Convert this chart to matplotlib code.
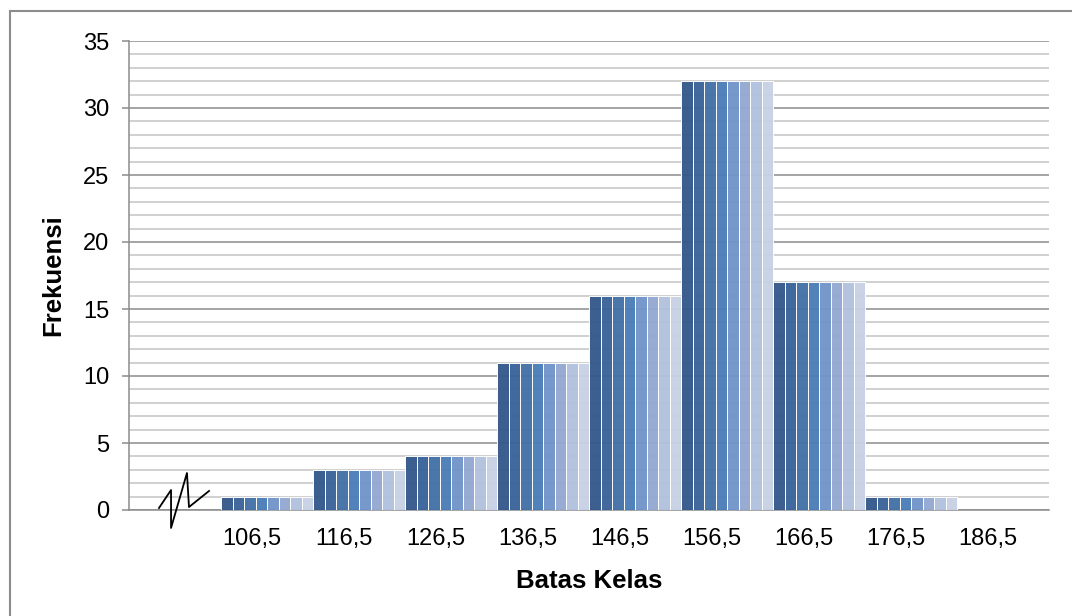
import numpy as np
import matplotlib.pyplot as plt
from matplotlib.patches import Rectangle
from matplotlib.ticker import MultipleLocator

plt.rcParams['font.family'] = ['Liberation Sans', 'DejaVu Sans']

# class boundaries and frequencies (first slot is the empty broken-axis slot)
kelas = ['', '106,5', '116,5', '126,5', '136,5', '146,5', '156,5', '166,5', '176,5', '186,5']
frekuensi = [0, 1, 3, 4, 11, 16, 32, 17, 1, 0]

# gradient stripes used inside every bar
stripes = ['#34588a', '#3a6399', '#4270a6', '#4a7db7',
           '#7194c8', '#94a8d2', '#b2c2dd', '#c8d0e4']

fig = plt.figure(figsize=(10.72, 6.16), dpi=100)
ax = fig.add_axes([129/1072, 1-510/616, (1049-129)/1072, (510-41)/616])

# chart area border (only top and left fall inside the image)
fig.patches.append(Rectangle((10/1072, -0.05), 1.1, 1-11/616+0.05, transform=fig.transFigure,
                             fill=False, ec='#8c8c8c', lw=1.5))

x = np.arange(len(kelas))
n = len(stripes)
w = 1.0/n
for k, c in enumerate(stripes):
    ax.bar(x - 0.5 + w*(k+0.5), frekuensi, width=w, color=c, alpha=0.96,
           edgecolor=(1, 1, 1, 0.2), linewidth=0.7, zorder=3)

ax.set_xlim(-0.5, len(kelas)-0.5)
ax.set_ylim(0, 35)
ax.yaxis.set_major_locator(MultipleLocator(5))
ax.yaxis.set_minor_locator(MultipleLocator(1))
ax.grid(True, axis='y', which='major', color='#8c8c8c', lw=1.1, zorder=1)
ax.grid(True, axis='y', which='minor', color='#c3c3c3', lw=1.1, zorder=1)

ax.set_xticks(x - 0.16)
ax.set_xticklabels(kelas)
ax.tick_params(axis='x', length=0, pad=13, labelsize=17)
ax.tick_params(axis='y', which='major', length=5, width=1.1, color='#8c8c8c', pad=9, labelsize=17)
ax.tick_params(axis='y', which='minor', length=0)

for s in ['top', 'right']:
    ax.spines[s].set_visible(False)
ax.spines['left'].set_color('#8c8c8c')
ax.spines['left'].set_linewidth(1.1)
ax.spines['bottom'].set_color('#8c8c8c')
ax.spines['bottom'].set_linewidth(1.1)

ax.set_ylabel('Frekuensi', fontsize=18.5, fontweight='bold', labelpad=13)
ax.set_xlabel('Batas Kelas', fontsize=18.5, fontweight='bold', labelpad=14)

# axis break mark
bx = [-0.174, -0.043, -0.043, 0.13, 0.152, 0.37]
by = [0.15, 1.49, -1.34, 2.76, 0.22, 1.42]
ax.plot(bx, by, color='black', lw=1.3, clip_on=False, zorder=5)

fig.savefig('out.png', dpi=100)
